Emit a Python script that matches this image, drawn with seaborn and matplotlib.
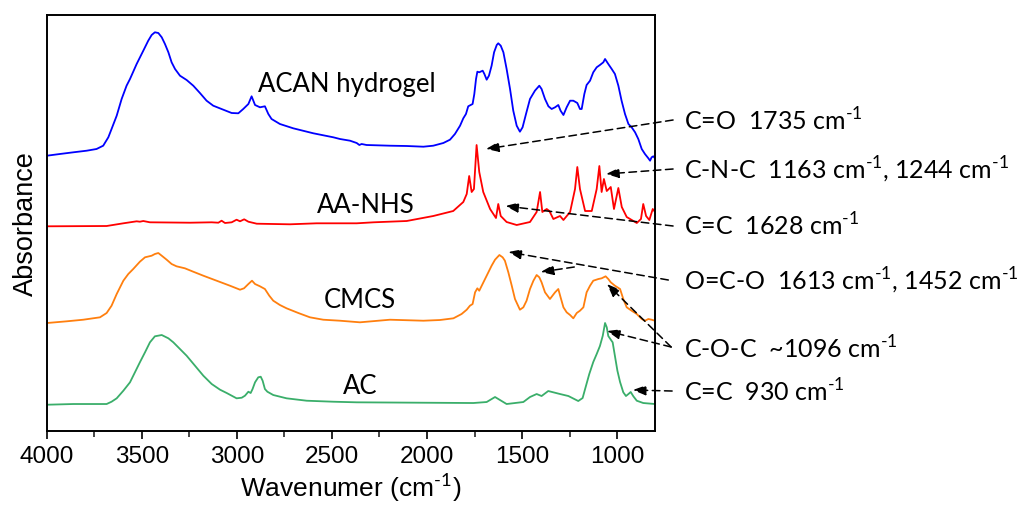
import matplotlib
matplotlib.use("Agg")
import matplotlib.pyplot as plt
import seaborn as sns
import pandas as pd

# ---------------- data ----------------
acan_wn = [4000, 3932, 3861, 3791, 3739, 3704, 3677, 3660, 3633, 3607, 3581, 3563, 3528, 3493,
           3467, 3449, 3432, 3414, 3396, 3379, 3361, 3344, 3326, 3300, 3265, 3230, 3195, 3160,
           3125, 3072, 3028, 2993, 2967, 2940, 2923, 2905, 2879, 2853, 2835, 2818, 2774, 2704,
           2598, 2493, 2458, 2405, 2370, 2356, 2344, 2318, 2195, 2107, 2019, 1967, 1914, 1879,
           1853, 1826, 1809, 1795, 1783, 1770, 1760, 1751, 1742, 1735, 1725, 1707, 1698, 1686,
           1674, 1660, 1647, 1633, 1625, 1612, 1598, 1581, 1563, 1546, 1528, 1511, 1497, 1479,
           1458, 1432, 1409, 1397, 1379, 1361, 1344, 1326, 1309, 1297, 1282, 1265, 1247, 1230,
           1209, 1195, 1186, 1172, 1160, 1142, 1125, 1107, 1090, 1072, 1063, 1046, 1028, 1011,
           993, 976, 958, 940, 923, 905, 888, 870, 853, 835, 826, 818, 809, 800]
acan_abs = [275.3, 277, 278.7, 280.3, 282, 285.3, 293.7, 302, 315.3, 332, 345.3, 352, 367, 380.3,
            390.3, 396, 398.7, 398, 393.7, 387, 378.7, 368.7, 362, 355.3, 351, 345.3, 338, 330.3,
            325.3, 321.3, 318, 317.7, 322, 327, 334.7, 326, 323.7, 324.7, 317, 312, 307, 302.7,
            297.7, 293.7, 292, 290.3, 288, 286, 287, 286, 285.3, 285, 284.3, 285.3, 288, 291.3,
            297, 305.3, 312.7, 317, 324.7, 326, 327, 337, 352, 359.3, 358.7, 360.3, 357, 351.3,
            355.3, 365.3, 378.7, 386, 387.7, 385.3, 378.7, 362, 342, 320.3, 305.3, 299.3, 303.7, 317,
            332, 340.3, 345.3, 342, 332, 324.7, 322, 323.7, 326, 320.3, 316, 323.7, 330.3, 330.3,
            328, 322, 322, 337, 346, 350.3, 358.7, 363.7, 366, 368.7, 372, 367, 362, 357,
            345.3, 330.3, 317, 307, 303.7, 298.7, 292, 282, 277, 272.7, 270.3, 273.7, 274.7, 272.7]

aanhs_wn = [4000, 3686, 3598, 3528, 3511, 3493, 3458, 3247, 3133, 3098, 3081, 3063, 3028, 3002,
            2984, 2962, 2940, 2896, 2721, 2581, 2370, 2281, 2107, 1967, 1862, 1809, 1791, 1778,
            1765, 1753, 1739, 1725, 1704, 1668, 1637, 1625, 1612, 1581, 1528, 1458, 1423, 1405,
            1393, 1370, 1356, 1335, 1300, 1282, 1247, 1221, 1209, 1195, 1168, 1133, 1107, 1093,
            1081, 1069, 1054, 1033, 1016, 993, 975, 949, 896, 874, 862, 847, 830, 812, 800]
aanhs_abs = [204.7, 205, 207.7, 209.7, 209.3, 210, 208.7, 208.3, 208.7, 208.3, 210.3, 208, 208.7, 211.3,
             209.7, 211.7, 209.3, 207.3, 206.7, 207.7, 207.7, 208.7, 210, 215, 220, 229, 237, 255,
             239, 242, 286, 259, 239, 222, 213, 227, 215, 209, 206, 209, 219, 239,
             219, 222, 220, 212, 215, 211, 219, 242, 264, 242, 220, 220, 242, 265,
             239, 252, 240, 244, 222, 243, 224, 214, 208, 212, 227, 215, 211, 222, 219]

cmcs_wn = [4000, 3896, 3809, 3721, 3686, 3660, 3633, 3598, 3572, 3546, 3511, 3484, 3449, 3432,
           3414, 3396, 3370, 3344, 3318, 3274, 3230, 3177, 3107, 3037, 2984, 2963, 2940, 2921,
           2905, 2879, 2853, 2830, 2809, 2774, 2739, 2677, 2616, 2546, 2458, 2353, 2195, 2019,
           1932, 1861, 1818, 1791, 1774, 1760, 1747, 1735, 1725, 1712, 1686, 1660, 1642, 1619,
           1602, 1590, 1572, 1554, 1537, 1511, 1493, 1476, 1458, 1440, 1423, 1409, 1397, 1379,
           1353, 1326, 1309, 1297, 1282, 1265, 1247, 1230, 1212, 1195, 1177, 1160, 1142, 1125,
           1098, 1081, 1060, 1046, 1033, 1011, 984, 967, 949, 923, 896, 870, 853, 835,
           818, 800]
cmcs_abs = [108, 109.7, 111.3, 113.7, 118, 125.3, 137, 150.3, 157, 162, 169.3, 173.7, 175.3, 177,
            178, 175.3, 171.3, 167, 164.7, 162.7, 159.3, 155.3, 150.3, 145.3, 141.3, 142.7, 147, 150.3,
            147, 144.7, 142, 135.3, 130.3, 126, 122.7, 118, 113.7, 111.3, 110.3, 108.7, 111.3, 110.3,
            111, 112.7, 117, 121.3, 125.3, 127, 138.7, 142.7, 140.3, 145.3, 155.3, 165.3, 171.3, 176,
            173.7, 170.3, 158.7, 145.3, 132, 121.3, 123.7, 130.3, 142, 150.3, 156, 153.7, 148.7, 138.7,
            132, 138.7, 142, 133.7, 123.7, 118.7, 116, 112.7, 118, 120.3, 123.7, 138.7, 145.3, 150.3,
            152, 152.7, 154.7, 152, 148.7, 145.3, 142, 132, 123.7, 120.3, 117, 112, 110.3, 112,
            111.3, 110.3]

ac_wn = [4000, 3861, 3686, 3660, 3633, 3598, 3563, 3537, 3511, 3484, 3458, 3432, 3396, 3361,
         3335, 3300, 3265, 3221, 3177, 3133, 3089, 3054, 3002, 2975, 2958, 2940, 2928, 2918,
         2905, 2888, 2875, 2865, 2853, 2840, 2809, 2739, 2633, 2493, 2370, 1756, 1686, 1642,
         1581, 1493, 1458, 1423, 1397, 1362, 1300, 1256, 1204, 1181, 1168, 1146, 1125, 1107,
         1090, 1075, 1063, 1054, 1046, 1028, 1023, 1011, 998, 984, 967, 953, 940, 928,
         914, 896, 862, 800]
ac_abs = [26.3, 27, 27, 29.3, 32.7, 40.3, 48.7, 58.7, 68.7, 78.7, 88.7, 94.7, 96, 92.7,
          88.7, 82, 75.3, 65.3, 55.3, 47, 41.3, 38, 32.7, 33.3, 35.3, 39.3, 38, 42,
          48.7, 53.7, 54.3, 50.3, 42, 39.3, 36, 32.7, 30.3, 29.3, 28.7, 28, 29, 34,
          27, 29, 34, 37, 35, 40, 37, 35, 30, 33, 42, 57, 69, 77,
          85, 95.3, 108, 103.7, 95, 90, 88.7, 75, 60.3, 49, 38.7, 35, 37, 39,
          34.7, 30.3, 28, 27]

sample_names = ["ACAN hydrogel", "AA-NHS", "CMCS", "AC"]
line_colors = ["#0000FF", "#FF0000", "#FF7F0E", "#3AAE6A"]
x_ticks = [4000, 3500, 3000, 2500, 2000, 1500, 1000]
x_minor = [3750, 3250, 2750, 2250, 1750, 1250]

SUP = r"$^{\text{-1}}$"
band_labels = ["C=O  1735 cm" + SUP,
               "C-N-C  1163 cm" + SUP + ", 1244 cm" + SUP,
               "C=C  1628 cm" + SUP,
               "O=C-O  1613 cm" + SUP + ", 1452 cm" + SUP,
               "C-O-C  ~1096 cm" + SUP,
               "C=C  930 cm" + SUP]

# ---------------- figure ----------------
sns.set_theme(style="white")
plt.rcParams["font.family"] = ["Liberation Sans", "DejaVu Sans"]
plt.rcParams["mathtext.fontset"] = "custom"
plt.rcParams["mathtext.rm"] = "Lato"

fig = plt.figure(figsize=(10.23, 5.06), dpi=100)
ax = fig.add_axes([0.0459, 0.1462, 0.5944, 0.8222])

frames = [
    pd.DataFrame({"wn": acan_wn, "a": acan_abs}),
    pd.DataFrame({"wn": aanhs_wn, "a": aanhs_abs}),
    pd.DataFrame({"wn": cmcs_wn, "a": cmcs_abs}),
    pd.DataFrame({"wn": ac_wn, "a": ac_abs}),
]
for df, c in zip(frames, line_colors):
    sns.lineplot(data=df, x="wn", y="a", ax=ax, color=c, linewidth=1.3,
                 estimator=None, sort=False)

ax.set_xlim(4000, 800)
ax.set_ylim(0, 416)
ax.set_xticks(x_ticks)
ax.set_xticklabels([str(t) for t in x_ticks])
ax.set_xticks(x_minor, minor=True)
ax.set_yticks([])
ax.tick_params(axis="x", which="major", direction="out", length=6, width=1.2,
               labelsize=17.5, bottom=True, pad=4, colors="black")
ax.tick_params(axis="x", which="minor", direction="out", length=4, width=1.2, bottom=True)
for s in ax.spines.values():
    s.set_color("black")
    s.set_linewidth(1.4)

ax.set_xlabel("Wavenumer (cm" + SUP + ")", fontsize=19, labelpad=2, color="black")
ax.set_ylabel("Absorbance", fontsize=19.5, labelpad=6, color="black")

# sample labels
lab_font = dict(family=["Lato", "DejaVu Sans"], fontsize=18.5, color="black",
                ha="center", va="center")
ax.text(2421, 347, sample_names[0], **lab_font)
ax.text(2321, 227, sample_names[1], **lab_font)
ax.text(2353, 132, sample_names[2], **lab_font)
ax.text(2353, 46, sample_names[3], **lab_font)

# band annotations to the right of the plot
ann_font = dict(family=["Lato", "DejaVu Sans"], fontsize=18, color="black",
                ha="left", va="center")
text_x = 650
texts_y = [311, 262, 206, 151, 83, 40]
for ty, lab in zip(texts_y, band_labels):
    ax.text(text_x, ty, lab, clip_on=False, **ann_font)

arrow_kw = dict(arrowstyle="-|>,head_length=0.65,head_width=0.25", color="black",
                linestyle=(0, (5, 3)), linewidth=1.1, shrinkA=0, shrinkB=0)

def arrow(head, tail):
    ax.annotate("", xy=head, xytext=tail, xycoords="data", textcoords="data",
                arrowprops=arrow_kw, annotation_clip=False)

arrow((1690, 282), (705, 311))     # C=O
arrow((1058, 257), (705, 262))     # C-N-C
arrow((1588, 225), (705, 205))     # C=C 1628
arrow((1572, 179), (730, 151))     # O=C-O 1613
arrow((1402, 159), (1225, 164))    # O=C-O 1452
arrow((1053, 147), (715, 84))      # C-O-C (CMCS)
arrow((1053, 100), (715, 84))      # C-O-C (AC)
arrow((917, 41), (710, 40))        # C=C 930

fig.savefig("out.png", dpi=100)
